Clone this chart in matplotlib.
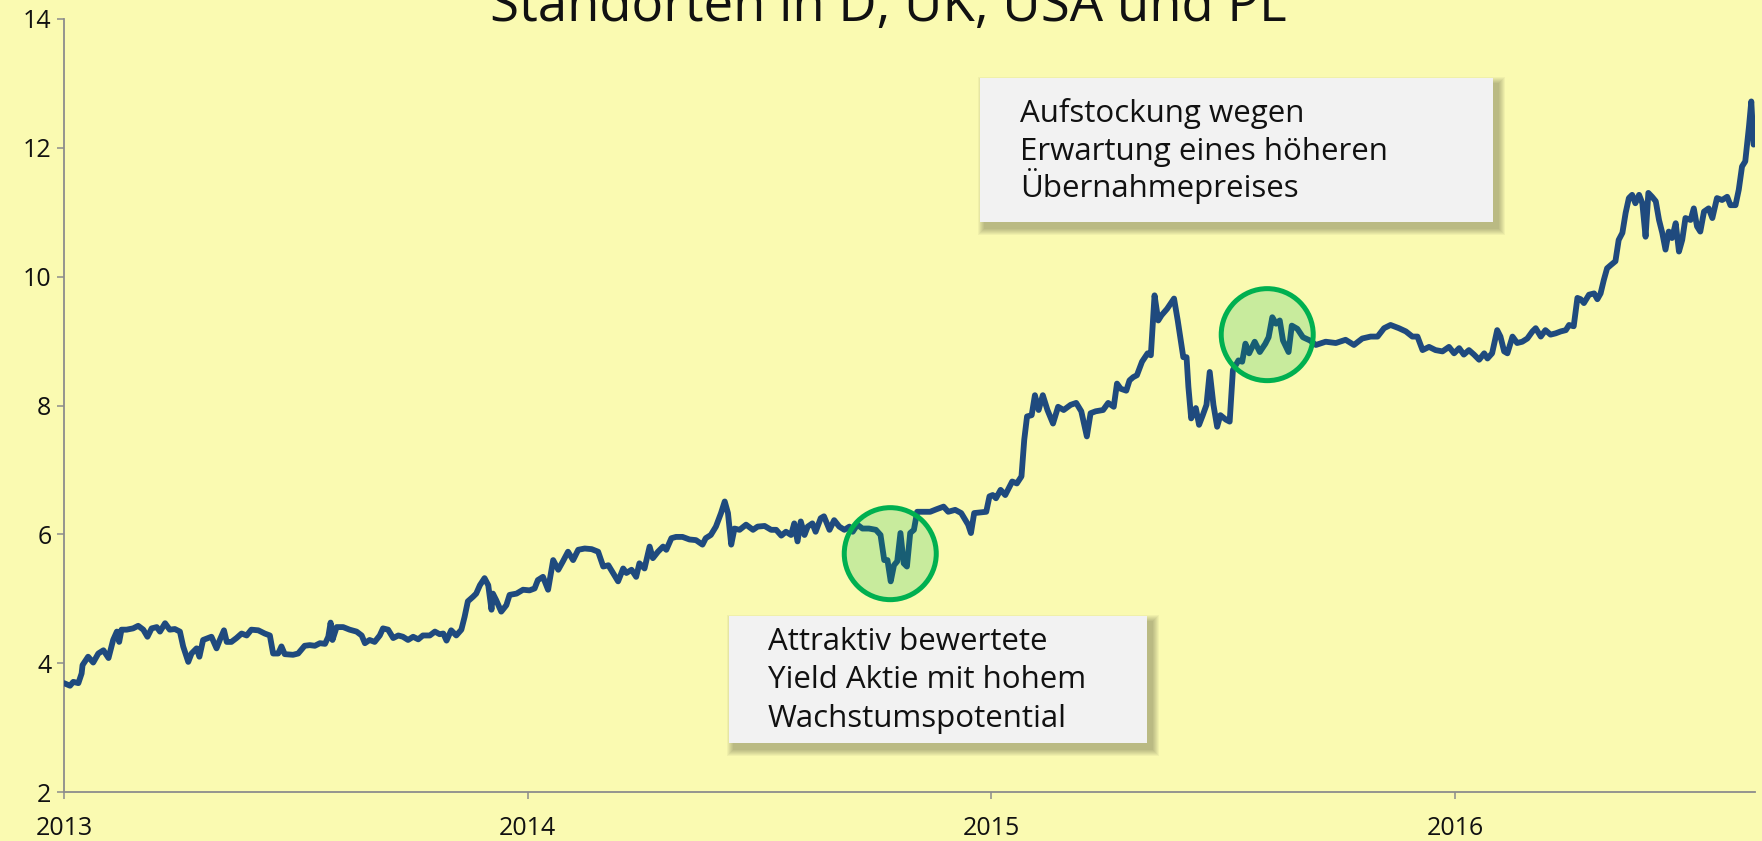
import matplotlib
matplotlib.use("Agg")
import matplotlib.pyplot as plt
from matplotlib import font_manager
from matplotlib.patches import Rectangle, Circle
from matplotlib.transforms import ScaledTranslation

# ---------------- data ----------------
years = [
 2013.000,2013.013,2013.020,2013.031,2013.038,2013.040,2013.052,2013.063,2013.074,2013.085,
 2013.096,2013.106,2013.114,2013.119,2013.124,2013.135,2013.149,2013.160,2013.171,2013.180,
 2013.189,2013.200,2013.207,2013.218,2013.228,2013.239,2013.250,2013.257,2013.268,2013.275,
 2013.286,2013.292,2013.300,2013.318,2013.329,2013.336,2013.345,2013.351,2013.361,2013.372,
 2013.383,2013.394,2013.404,2013.419,2013.433,2013.444,2013.451,2013.462,2013.469,2013.476,
 2013.494,2013.505,2013.519,2013.530,2013.541,2013.552,2013.563,2013.570,2013.575,2013.579,
 2013.588,2013.602,2013.616,2013.631,2013.642,2013.649,2013.659,2013.670,2013.681,2013.688,
 2013.699,2013.710,2013.721,2013.731,2013.742,2013.753,2013.764,2013.774,2013.789,2013.800,
 2013.810,2013.818,2013.825,2013.835,2013.846,2013.857,2013.864,2013.871,2013.882,2013.889,
 2013.897,2013.907,2013.915,2013.922,2013.925,2013.932,2013.943,2013.954,2013.961,2013.976,
 2013.990,2014.004,2014.015,
 2014.022,2014.033,2014.044,2014.055,2014.066,2014.076,2014.087,2014.098,2014.109,2014.123,
 2014.138,2014.152,2014.163,2014.174,2014.184,2014.195,2014.206,2014.213,2014.224,2014.234,
 2014.241,2014.252,2014.263,2014.270,2014.281,2014.292,2014.299,2014.310,2014.320,2014.334,
 2014.349,2014.363,2014.377,2014.384,2014.395,2014.406,2014.417,2014.425,2014.432,2014.439,
 2014.446,2014.457,2014.471,2014.486,2014.496,2014.511,2014.525,2014.536,2014.547,2014.557,
 2014.568,2014.575,2014.582,2014.589,2014.597,2014.604,2014.614,2014.621,2014.632,2014.639,
 2014.651,2014.661,2014.672,2014.683,2014.694,2014.701,2014.711,2014.722,2014.736,2014.751,
 2014.761,2014.769,2014.776,2014.783,2014.790,2014.797,2014.804,2014.811,2014.818,2014.825,
 2014.833,2014.840,2014.854,2014.868,2014.882,2014.897,2014.907,2014.922,2014.935,2014.950,
 2014.956,2014.963,2014.977,2014.989,2014.996,2015.003,2015.010,2015.020,2015.030,2015.045,
 2015.055,2015.065,
 2015.071,2015.077,2015.087,2015.094,2015.102,2015.111,2015.121,2015.133,2015.144,2015.156,
 2015.171,2015.183,2015.194,2015.206,2015.214,2015.225,2015.241,2015.252,2015.264,2015.271,
 2015.279,2015.291,2015.298,2015.306,2015.314,2015.325,2015.337,2015.344,2015.352,2015.360,
 2015.367,2015.379,2015.394,2015.402,2015.414,2015.421,2015.425,2015.431,2015.441,2015.448,
 2015.456,2015.464,2015.471,2015.479,2015.487,2015.494,2015.506,2015.514,2015.521,2015.533,
 2015.541,2015.548,2015.556,2015.568,2015.579,2015.591,2015.598,2015.606,2015.614,2015.622,
 2015.629,2015.641,2015.648,2015.660,2015.672,2015.687,
 2015.700,2015.721,2015.743,2015.764,2015.782,2015.800,2015.818,2015.833,2015.847,2015.861,
 2015.879,2015.894,2015.908,2015.919,2015.930,2015.944,2015.958,2015.973,2015.987,2015.998,
 2016.009,2016.019,2016.030,2016.041,2016.052,2016.063,2016.070,2016.080,2016.091,2016.098,
 2016.106,2016.113,2016.124,2016.134,2016.145,2016.156,2016.167,2016.174,2016.185,2016.195,
 2016.206,2016.217,2016.228,2016.239,2016.246,2016.256,2016.264,2016.271,2016.278,2016.289,
 2016.300,2016.307,2016.314,2016.321,2016.328,2016.336,2016.346,2016.353,2016.361,2016.368,
 2016.375,2016.382,2016.389,2016.397,2016.404,2016.411,2016.417,2016.425,2016.433,2016.440,
 2016.447,2016.454,2016.461,2016.468,2016.476,2016.483,2016.490,2016.497,2016.508,2016.515,
 2016.522,2016.529,2016.537,2016.547,2016.555,2016.565,2016.576,2016.587,2016.594,2016.605,
 2016.612,2016.619,2016.626,2016.634,2016.639,2016.644,
]
prices = [
 3.69,3.65,3.71,3.69,3.84,3.97,4.10,4.01,4.15,4.20,
 4.08,4.36,4.49,4.33,4.52,4.52,4.54,4.58,4.52,4.41,
 4.54,4.56,4.49,4.62,4.52,4.53,4.49,4.26,4.02,4.15,
 4.23,4.10,4.36,4.41,4.23,4.36,4.51,4.33,4.33,4.39,
 4.46,4.43,4.52,4.51,4.46,4.43,4.15,4.15,4.26,4.14,
 4.13,4.15,4.27,4.28,4.27,4.31,4.30,4.41,4.63,4.36,
 4.56,4.56,4.52,4.49,4.43,4.31,4.36,4.33,4.43,4.54,
 4.52,4.39,4.43,4.41,4.36,4.41,4.37,4.43,4.43,4.49,
 4.45,4.46,4.35,4.51,4.43,4.52,4.72,4.96,5.03,5.08,
 5.21,5.32,5.21,4.83,5.08,4.98,4.80,4.90,5.06,5.08,
 5.14,5.13,5.16,
 5.29,5.34,5.14,5.60,5.45,5.58,5.73,5.60,5.76,5.78,
 5.77,5.73,5.50,5.52,5.40,5.27,5.47,5.40,5.45,5.34,
 5.55,5.47,5.81,5.63,5.73,5.81,5.76,5.94,5.96,5.96,
 5.92,5.91,5.84,5.94,5.99,6.12,6.33,6.51,6.33,5.84,
 6.09,6.07,6.15,6.07,6.12,6.13,6.07,6.07,5.98,6.04,
 5.99,6.17,5.89,6.20,5.99,6.12,6.17,6.04,6.25,6.28,
 6.07,6.22,6.12,6.07,6.12,6.04,6.15,6.09,6.09,6.07,
 5.99,5.60,5.60,5.27,5.52,5.58,6.02,5.55,5.50,6.02,
 6.07,6.35,6.35,6.35,6.39,6.43,6.35,6.38,6.33,6.15,
 6.02,6.33,6.34,6.35,6.59,6.61,6.56,6.69,6.61,6.82,
 6.79,6.90,
 7.47,7.83,7.85,8.16,7.93,8.16,7.93,7.72,7.98,7.93,
 8.01,8.04,7.91,7.52,7.88,7.91,7.93,8.04,7.98,8.34,
 8.26,8.23,8.39,8.44,8.47,8.68,8.81,8.78,9.71,9.32,
 9.40,9.50,9.66,9.32,8.75,8.75,8.29,7.80,7.96,7.70,
 7.85,8.01,8.52,8.01,7.67,7.85,7.78,7.75,8.55,8.70,
 8.68,8.96,8.81,8.99,8.83,8.96,9.06,9.37,9.27,9.32,
 9.01,8.83,9.24,9.19,9.06,9.01,
 8.94,8.99,8.97,9.02,8.94,9.04,9.07,9.07,9.20,9.25,
 9.20,9.15,9.07,9.07,8.86,8.91,8.86,8.84,8.91,8.81,
 8.89,8.79,8.86,8.79,8.71,8.81,8.73,8.81,9.17,9.07,
 8.84,8.81,9.07,8.97,8.99,9.04,9.15,9.20,9.07,9.17,
 9.10,9.12,9.15,9.17,9.25,9.23,9.67,9.65,9.59,9.72,
 9.74,9.65,9.74,9.95,10.13,10.18,10.24,10.57,10.68,10.99,
 11.22,11.27,11.14,11.27,11.14,10.62,11.30,11.24,11.17,10.88,
 10.68,10.42,10.70,10.60,10.83,10.39,10.57,10.91,10.88,11.06,
 10.78,10.70,11.01,11.06,10.91,11.22,11.19,11.24,11.11,11.11,
 11.35,11.71,11.79,12.33,12.72,12.05,
]
x_ticks = [2013, 2014, 2015, 2016]
x_tick_labels = ["2013", "2014", "2015", "2016"]
y_ticks = [2, 4, 6, 8, 10, 12, 14]

title_text = "Standorten in D, UK, USA und PL"
note_top = ["Aufstockung wegen", "Erwartung eines höheren", "Übernahmepreises"]
note_bottom = ["Attraktiv bewertete", "Yield Aktie mit hohem", "Wachstumspotential"]
highlight_points = [(2014.782, 5.70), (2015.595, 9.10)]

# ---------------- style ----------------
BG = "#fafab1"
LINE = "#1f4a7e"
GREEN = "#00b050"
AX_GREY = "#8c8c8c"

installed = {f.name for f in font_manager.fontManager.ttflist}
def pick(*names):
    for n in names:
        if n in installed:
            return n
    return "DejaVu Sans"

FONT = pick("Open Sans", "Noto Sans", "DejaVu Sans")

plt.rcParams["font.family"] = [FONT, "DejaVu Sans"]

fig = plt.figure(figsize=(17.62, 8.41), dpi=100, facecolor=BG)
W, H = 1762, 841
L, R, T, B = 64, 1755, 19, 792
ax = fig.add_axes([L / W, (H - B) / H, (R - L) / W, (B - T) / H])
ax.set_facecolor(BG)

ax.plot(years, prices, color=LINE, lw=4.2, solid_joinstyle="round",
        solid_capstyle="round", zorder=3)

ax.set_xlim(2013, 2016.647)
ax.set_ylim(2, 14)
ax.set_xticks(x_ticks)
ax.set_xticklabels(x_tick_labels)
ax.set_yticks(y_ticks)

for s in ["top", "right"]:
    ax.spines[s].set_visible(False)
for s in ["left", "bottom"]:
    ax.spines[s].set_color(AX_GREY)
    ax.spines[s].set_linewidth(1.3)
    ax.spines[s].set_zorder(2)
ax.tick_params(axis="both", colors=AX_GREY, length=5, width=1.1,
               labelsize=18, labelcolor="#111111")
ax.tick_params(axis="x", pad=12)
ax.tick_params(axis="y", pad=4)

# highlight circles (round in pixel space)
for (cx, cy) in highlight_points:
    tr = fig.dpi_scale_trans + ScaledTranslation(cx, cy, ax.transData)
    ax.add_patch(Circle((0, 0), 0.46, transform=tr, facecolor=GREEN,
                        alpha=0.2, edgecolor="none", zorder=4, clip_on=False))
    ax.add_patch(Circle((0, 0), 0.46, transform=tr, facecolor="none",
                        edgecolor=GREEN, lw=3.6, zorder=5, clip_on=False))

# annotation boxes with soft shadow
def px_to_ax(px, py):
    return (px - L) / (R - L), (B - py) / (B - T)

def note_box(x0, y0, x1, y1, lines, tx, baselines):
    ax0, ay1 = px_to_ax(x0, y0)
    ax1, ay0 = px_to_ax(x1, y1)
    w, h = ax1 - ax0, ay1 - ay0
    dx, dy = 5 / (R - L), -6 / (B - T)
    for k in range(7, 0, -1):
        gx, gy = k / (R - L), k / (B - T)
        ax.add_patch(Rectangle((ax0 + dx - gx, ay0 + dy - gy), w + 2 * gx, h + 2 * gy,
                               transform=ax.transAxes, facecolor="#000000",
                               alpha=0.04, edgecolor="none", zorder=6, clip_on=False))
    ax.add_patch(Rectangle((ax0, ay0), w, h, transform=ax.transAxes,
                           facecolor="#f2f2f2", edgecolor="none", zorder=7, clip_on=False))
    for line, by in zip(lines, baselines):
        xx, yy = px_to_ax(tx, by)
        ax.text(xx, yy, line, transform=ax.transAxes, fontsize=22.5,
                color="#111111", va="baseline", ha="left", zorder=8)

note_box(980, 78, 1493, 222, note_top, 1020, [122, 160, 197])
note_box(729, 616, 1147, 743, note_bottom, 768, [650, 688, 727])

fig.text(888 / W, (H - 21) / H, title_text, ha="center", va="baseline",
         fontsize=38, color="#111111")

fig.savefig("out.png", dpi=100, facecolor=BG)
